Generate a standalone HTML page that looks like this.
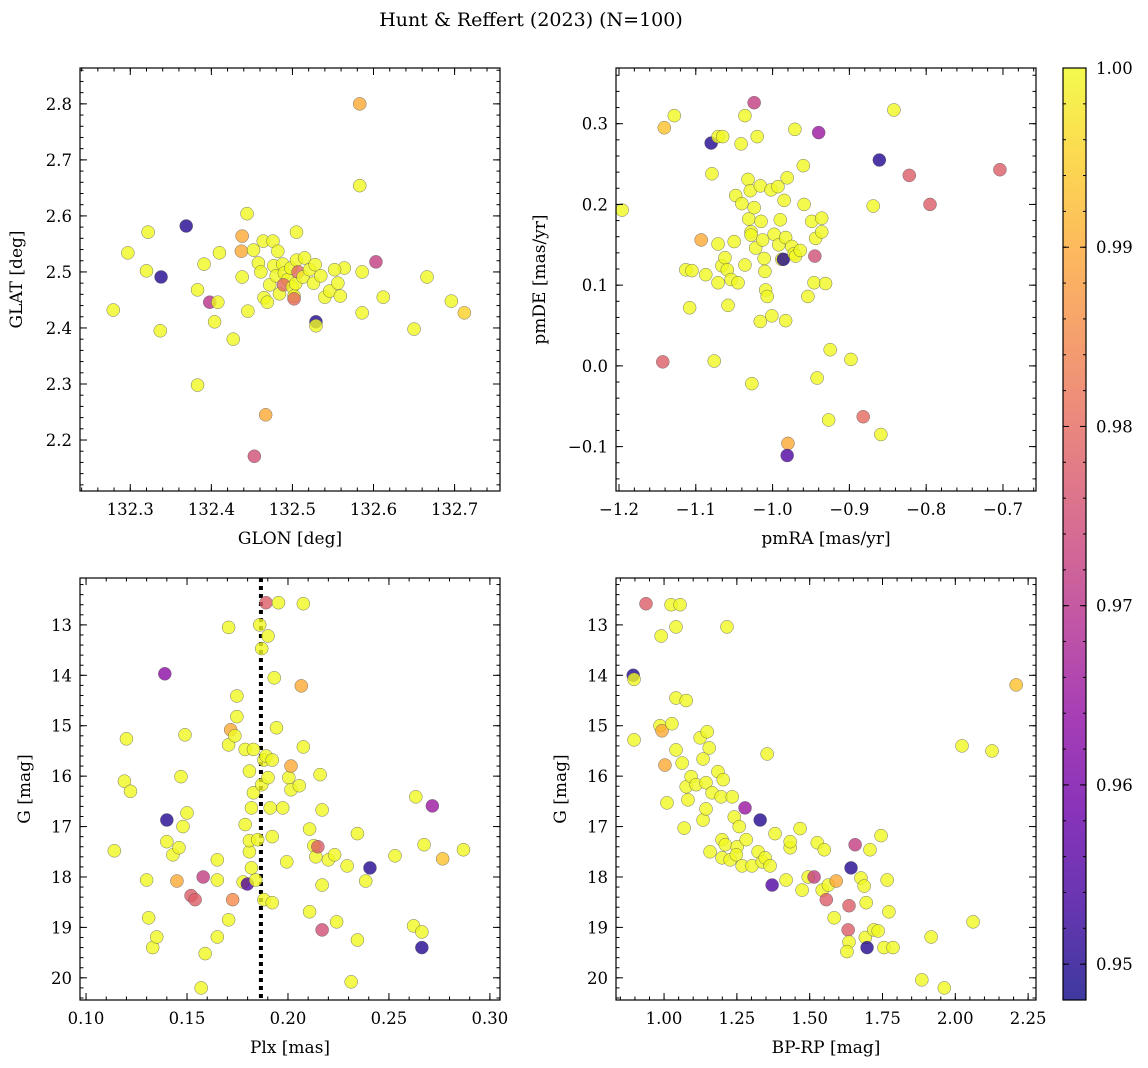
<!DOCTYPE html>
<html><head><meta charset="utf-8"><style>
html,body{margin:0;padding:0;background:#fff;}
svg{display:block;font-family:"DejaVu Serif","Liberation Serif",serif;}
</style></head><body>
<svg id="fig" width="1148" height="1068" viewBox="0 0 1148 1068" xmlns="http://www.w3.org/2000/svg">
<text x="531" y="26" font-size="19" text-anchor="middle">Hunt &amp; Reffert (2023) (N=100)</text>
</svg>
<script>
// Panel 1: GLON vs GLAT
const p1x=[132.279,132.297,132.322,132.320,132.338,132.337,132.369,132.383,132.391,132.383,132.398,132.408,132.404,132.410,132.427,132.438,132.437,132.438,132.444,132.445,132.452,132.458,132.464,132.461,132.465,132.469,132.472,132.467,132.453,132.476,132.477,132.480,132.482,132.484,132.488,132.490,132.494,132.489,132.498,132.500,132.502,132.504,132.505,132.507,132.502,132.505,132.513,132.515,132.521,132.526,132.528,132.535,132.540,132.546,132.556,132.564,132.552,132.529,132.559,132.586,132.583,132.583,132.586,132.603,132.612,132.650,132.666,132.696,132.712,132.529];
const p1y=[2.432,2.534,2.571,2.502,2.491,2.395,2.582,2.468,2.514,2.298,2.446,2.446,2.411,2.534,2.380,2.564,2.537,2.491,2.604,2.430,2.539,2.516,2.555,2.5,2.454,2.446,2.477,2.245,2.171,2.555,2.511,2.493,2.537,2.461,2.514,2.498,2.486,2.477,2.507,2.473,2.457,2.479,2.521,2.5,2.452,2.571,2.491,2.525,2.504,2.48,2.513,2.493,2.455,2.466,2.48,2.507,2.504,2.411,2.457,2.5,2.8,2.654,2.427,2.518,2.455,2.398,2.491,2.448,2.427,2.404];
const p1c=[1,1,1,1,0.95,1,0.95,1,1,1,0.97,1,1,1,1,0.99,0.99,1,1,1,1,1,1,1,1,1,1,0.99,0.975,1,1,1,1,1,1,1,1,0.98,1,1,1,1,1,0.98,0.98,1,1,1,1,1,1,1,1,1,1,1,1,0.95,1,1,0.99,1,1,0.972,1,1,1,1,0.995,1];
// Panel 2: pmRA vs pmDE
const p2x=[-1.196,-1.141,-1.128,-1.143,-1.113,-1.105,-1.108,-1.093,-1.087,-1.080,-1.079,-1.076,-1.071,-1.065,-1.071,-1.071,-1.066,-1.062,-1.059,-1.058,-1.054,-1.050,-1.048,-1.045,-1.041,-1.036,-1.040,-1.036,-1.032,-1.031,-1.029,-1.028,-1.027,-1.028,-1.024,-1.024,-1.020,-1.022,-1.016,-1.016,-1.015,-1.013,-1.011,-1.010,-1.009,-1.007,-1.002,-0.998,-1.001,-0.993,-0.992,-0.990,-0.988,-0.985,-0.983,-0.981,-0.983,-0.986,-0.980,-0.981,-0.975,-0.972,-0.970,-0.964,-0.971,-0.960,-0.959,-0.954,-0.949,-0.945,-0.946,-0.944,-0.936,-0.942,-0.940,-0.936,-0.931,-0.925,-0.927,-0.898,-0.882,-0.869,-0.861,-0.859,-0.842,-0.822,-0.795,-0.704];
const p2y=[0.193,0.295,0.31,0.005,0.119,0.118,0.072,0.156,0.113,0.276,0.238,0.006,0.284,0.284,0.151,0.103,0.124,0.134,0.119,0.075,0.107,0.154,0.211,0.103,0.275,0.31,0.201,0.125,0.231,0.182,0.217,0.166,-0.022,0.162,0.196,0.326,0.284,0.146,0.055,0.223,0.179,0.156,0.133,0.117,0.094,0.086,0.218,0.163,0.062,0.222,0.15,0.181,0.132,0.205,0.056,0.233,0.159,0.132,-0.096,-0.111,0.148,0.139,0.136,0.143,0.293,0.248,0.2,0.086,0.179,0.136,0.103,0.158,0.166,-0.015,0.289,0.183,0.102,0.02,-0.067,0.008,-0.063,0.198,0.255,-0.085,0.317,0.236,0.2,0.243];
const p2c=[1,0.993,1,0.978,1,1,1,0.99,1,0.95,1,1,1,1,1,1,1,1,1,1,1,1,1,1,1,1,1,1,1,1,1,1,1,1,1,0.972,1,1,1,1,1,1,1,1,1,1,1,1,1,1,1,1,1,1,1,1,1,0.95,0.99,0.955,1,1,1,1,1,1,1,1,1,0.975,1,1,1,1,0.965,1,1,1,1,1,0.98,1,0.95,1,1,0.978,0.978,0.978];
// Panel 3: Plx vs G
const p3x=[0.114,0.120,0.119,0.122,0.130,0.131,0.133,0.135,0.139,0.140,0.140,0.143,0.145,0.146,0.147,0.148,0.149,0.150,0.152,0.154,0.158,0.157,0.159,0.165,0.165,0.165,0.1706,0.1706,0.1706,0.1716,0.1726,0.1737,0.1747,0.1747,0.1778,0.1788,0.1788,0.1809,0.1809,0.1809,0.1799,0.1819,0.1819,0.1829,0.1829,0.1840,0.1850,0.1860,0.1870,0.1870,0.1881,0.1881,0.1891,0.1891,0.1901,0.1901,0.1912,0.1922,0.1922,0.1922,0.1932,0.1943,0.1953,0.1974,0.1994,0.2004,0.2015,0.2015,0.2056,0.2076,0.2066,0.2076,0.2107,0.2107,0.2128,0.2138,0.2148,0.2159,0.2169,0.2169,0.2169,0.2200,0.2231,0.2241,0.2293,0.2313,0.2344,0.2344,0.2385,0.2406,0.2530,0.2622,0.2633,0.2663,0.2663,0.2674,0.2715,0.2766,0.2869];
const p3y=[17.48,15.26,16.1,16.3,18.06,18.81,19.4,19.19,13.97,16.87,17.3,17.56,18.08,17.42,16.01,17.0,15.18,16.73,18.37,18.45,18.0,20.2,19.52,19.19,17.66,18.06,13.05,18.85,15.38,15.08,18.45,15.2,14.41,14.82,18.1,16.96,15.47,17.5,17.28,15.9,18.14,17.82,16.63,16.33,15.47,18.06,17.26,13.0,13.47,16.17,18.45,15.68,12.56,15.6,16.03,13.22,16.63,18.51,17.2,15.68,14.05,15.04,12.56,16.63,17.7,16.03,15.8,16.27,16.19,15.42,14.21,12.58,18.69,17.05,17.38,17.6,17.4,15.97,16.67,18.16,19.05,17.66,17.56,18.89,17.78,20.08,17.14,19.25,18.08,17.82,17.58,18.97,16.41,19.4,19.09,17.36,16.59,17.64,17.46];
const p3c=[1,1,1,1,1,1,1,1,0.963,0.95,1,1,0.99,1,1,1,1,1,0.978,0.978,0.972,1,1,1,1,1,1,1,1,0.99,0.985,1,1,1,1,1,1,1,1,1,0.955,1,1,1,1,1,1,1,1,1,1,1,0.978,1,1,1,1,1,1,1,1,1,1,1,1,1,0.99,1,1,1,0.99,1,1,1,1,1,0.978,1,1,1,0.975,1,1,1,1,1,1,1,1,0.95,1,1,1,0.95,1,1,0.965,0.993,1];
// Panel 4: BP-RP vs G
const p4x=[0.894,0.897,0.897,0.938,0.99,0.986,0.993,1.003,1.01,1.024,1.027,1.041,1.041,1.041,1.055,1.062,1.076,1.076,1.069,1.082,1.093,1.11,1.124,1.134,1.134,1.144,1.144,1.148,1.155,1.158,1.165,1.185,1.196,1.199,1.199,1.203,1.21,1.216,1.227,1.234,1.241,1.251,1.248,1.258,1.268,1.278,1.282,1.302,1.323,1.33,1.337,1.347,1.354,1.364,1.371,1.381,1.419,1.433,1.433,1.467,1.474,1.495,1.515,1.526,1.543,1.55,1.557,1.564,1.584,1.591,1.632,1.635,1.635,1.628,1.642,1.656,1.676,1.687,1.691,1.694,1.697,1.707,1.72,1.735,1.745,1.755,1.766,1.772,1.786,1.885,1.917,1.962,2.023,2.061,2.126,2.209];
const p4y=[14.0,14.08,15.28,12.58,13.22,15.0,15.1,15.78,16.53,12.6,14.96,13.04,15.48,14.45,12.6,15.74,16.21,14.5,17.03,16.47,16.01,16.17,15.24,15.66,16.87,16.65,16.13,15.12,15.44,17.5,16.33,15.91,16.41,17.26,17.62,16.07,17.36,13.04,17.66,16.41,16.81,17.4,17.56,17.0,17.78,16.63,17.26,17.78,17.5,16.87,17.7,17.62,15.56,17.78,18.16,17.14,18.06,17.42,17.3,17.04,18.26,18.0,18.0,17.32,18.26,17.46,18.45,18.16,18.81,18.08,19.05,18.57,19.29,19.48,17.82,17.36,18.02,18.18,19.2,18.51,19.4,17.46,19.05,19.07,17.18,19.4,18.06,18.69,19.4,20.04,19.19,20.2,15.4,18.89,15.5,14.19];
const p4c=[0.95,1,1,0.978,1,1,0.99,0.99,1,1,1,1,1,1,1,1,1,1,1,1,1,1,1,1,1,1,1,1,1,1,1,1,1,1,1,1,1,1,1,1,1,1,1,1,1,0.965,1,1,1,0.95,1,1,1,1,0.955,1,1,1,1,1,1,1,0.972,1,1,1,0.978,1,1,0.99,0.978,0.978,1,1,0.95,0.972,1,1,1,1,0.95,1,1,1,1,1,1,1,1,1,1,1,1,1,1,0.993];
const plxLine=0.1866;
const cbTicks=[0.95,0.96,0.97,0.98,0.99,1.00];

const NS="http://www.w3.org/2000/svg";
const svg=document.getElementById('fig');
function mk(tag,at,parent){const e=document.createElementNS(NS,tag);for(const k in at)e.setAttribute(k,at[k]);(parent||svg).appendChild(e);return e;}
const plasma=[[13,8,135],[65,4,157],[106,0,168],[143,13,164],[177,42,144],[204,71,120],[225,100,98],[242,132,75],[252,166,54],[252,206,37],[240,249,33]];
const CMIN=0.948,CMAX=1.0;
function cmap(v){let t=(v-CMIN)/(CMAX-CMIN);t=Math.max(0,Math.min(1,t));const f=t*10,i=Math.min(9,Math.floor(f)),r=f-i;const a=plasma[i],b=plasma[i+1];return `rgb(${a.map((c,k)=>Math.round(c+(b[k]-c)*r)).join(',')})`;}
function fmt(v,d){const s=Math.abs(v).toFixed(d);return (v<-1e-9?'\u2212':'')+s;}
const TFS=16.5, LFS=17;

function panel(o){
  const g=mk('g',{});
  
  
  const sx=v=>o.L+(v-o.x0)/(o.x1-o.x0)*(o.R-o.L);
  const sy=v=>o.inv? o.T+(v-o.y0)/(o.y1-o.y0)*(o.B-o.T) : o.B-(v-o.y0)/(o.y1-o.y0)*(o.B-o.T);
  if(o.vline!==undefined){const l=mk('line',{x1:sx(o.vline),x2:sx(o.vline),y1:o.T,y2:o.B,stroke:'#000','stroke-width':4,'stroke-dasharray':'4,4'},g);}
  for(let i=0;i<o.xs.length;i++){
    const c=mk('circle',{cx:sx(o.xs[i]),cy:sy(o.ys[i]),r:6.5,fill:cmap(o.cs[i]),'fill-opacity':0.8,stroke:'#555','stroke-width':0.5,'stroke-opacity':0.8},g);
    
    
  }
  const fr=mk('rect',{x:o.L,y:o.T,width:o.R-o.L,height:o.B-o.T,fill:'none',stroke:'#000','stroke-width':1.2},g);
  
  for(const t of o.xt){const x=sx(t);mk('line',{x1:x,x2:x,y1:o.B,y2:o.B-7,stroke:'#000'},g);mk('line',{x1:x,x2:x,y1:o.T,y2:o.T+7,stroke:'#000'},g);
    const tx=mk('text',{x:x,y:o.B+24,'font-size':TFS,'text-anchor':'middle'},g);tx.textContent=fmt(t,o.xd);}
  for(let t=o.xm0;t<=o.x1+1e-9;t+=o.xms){if(t<o.x0)continue;const x=sx(t);mk('line',{x1:x,x2:x,y1:o.B,y2:o.B-3.5,stroke:'#000'},g);mk('line',{x1:x,x2:x,y1:o.T,y2:o.T+3.5,stroke:'#000'},g);}
  for(const t of o.yt){const y=sy(t);mk('line',{x1:o.L,x2:o.L+7,y1:y,y2:y,stroke:'#000'},g);mk('line',{x1:o.R,x2:o.R-7,y1:y,y2:y,stroke:'#000'},g);
    const tx=mk('text',{x:o.L-8,y:y+6,'font-size':TFS,'text-anchor':'end'},g);tx.textContent=fmt(t,o.yd);}
  const ylo=Math.min(o.y0,o.y1),yhi=Math.max(o.y0,o.y1);
  for(let t=o.ym0;t<=yhi+1e-9;t+=o.yms){if(t<ylo)continue;const y=sy(t);mk('line',{x1:o.L,x2:o.L+3.5,y1:y,y2:y,stroke:'#000'},g);mk('line',{x1:o.R,x2:o.R-3.5,y1:y,y2:y,stroke:'#000'},g);}
  const xl=mk('text',{x:(o.L+o.R)/2,y:o.B+53,'font-size':LFS,'text-anchor':'middle'},g);xl.textContent=o.xl;
  const cy=(o.T+o.B)/2;const yl=mk('text',{x:o.yx,y:cy,'font-size':LFS,'text-anchor':'middle',transform:`rotate(-90 ${o.yx} ${cy})`},g);yl.textContent=o.yl;
}
panel({name:'glon-glat-panel',L:80,R:500,T:68,B:491,x0:132.238,x1:132.756,y0:2.109,y1:2.864,xs:p1x,ys:p1y,cs:p1c,xt:[132.3,132.4,132.5,132.6,132.7],xd:1,xm0:132.24,xms:0.02,yt:[2.2,2.3,2.4,2.5,2.6,2.7,2.8],yd:1,ym0:2.12,yms:0.02,xl:'GLON [deg]',yl:'GLAT [deg]',yx:22});
panel({name:'proper-motion-panel',L:616,R:1036,T:68,B:491,x0:-1.2039,x1:-0.657,y0:-0.155,y1:0.369,xs:p2x,ys:p2y,cs:p2c,xt:[-1.2,-1.1,-1.0,-0.9,-0.8,-0.7],xd:1,xm0:-1.2,xms:0.02,yt:[-0.1,0.0,0.1,0.2,0.3],yd:1,ym0:-0.14,yms:0.02,xl:'pmRA [mas/yr]',yl:'pmDE [mas/yr]',yx:545});
panel({name:'parallax-magnitude-panel',L:80,R:500,T:578,B:1000,x0:0.097,x1:0.305,y0:12.07,y1:20.44,inv:true,xs:p3x,ys:p3y,cs:p3c,xt:[0.10,0.15,0.20,0.25,0.30],xd:2,xm0:0.10,xms:0.01,yt:[13,14,15,16,17,18,19,20],yd:0,ym0:12.2,yms:0.2,xl:'Plx [mas]',yl:'G [mag]',yx:30,vline:plxLine});
panel({name:'color-magnitude-panel',L:616,R:1036,T:578,B:1000,x0:0.835,x1:2.277,y0:12.07,y1:20.44,inv:true,xs:p4x,ys:p4y,cs:p4c,xt:[1.00,1.25,1.50,1.75,2.00,2.25],xd:2,xm0:0.85,xms:0.05,yt:[13,14,15,16,17,18,19,20],yd:0,ym0:12.2,yms:0.2,xl:'BP-RP [mag]',yl:'G [mag]',yx:566});
const cb=mk('g',{});
const defs=mk('defs',{},cb);const lg=mk('linearGradient',{id:'cbg',x1:0,y1:1,x2:0,y2:0},defs);
for(let i=0;i<=10;i++)mk('stop',{offset:i/10,'stop-color':`rgb(${plasma[i].join(',')})`},lg);
const CT=68,CB=1000,CL=1063,CR=1086;
mk('rect',{x:CL,y:CT,width:CR-CL,height:CB-CT,fill:'url(#cbg)','fill-opacity':0.8,stroke:'#000','stroke-width':1.2},cb);
const cyf=v=>CB-(v-CMIN)/(CMAX-CMIN)*(CB-CT);
for(const t of cbTicks){const y=cyf(t);mk('line',{x1:CR,x2:CR-6,y1:y,y2:y,stroke:'#000'},cb);mk('line',{x1:CL,x2:CL+6,y1:y,y2:y,stroke:'#000'},cb);
  const tx=mk('text',{x:CR+10,y:y+6,'font-size':TFS},cb);tx.textContent=t.toFixed(2);}
for(let t=0.948;t<=1.0001;t+=0.002){const y=cyf(t);mk('line',{x1:CR,x2:CR-3,y1:y,y2:y,stroke:'#000'},cb);mk('line',{x1:CL,x2:CL+3,y1:y,y2:y,stroke:'#000'},cb);}
</script>
</body></html>
